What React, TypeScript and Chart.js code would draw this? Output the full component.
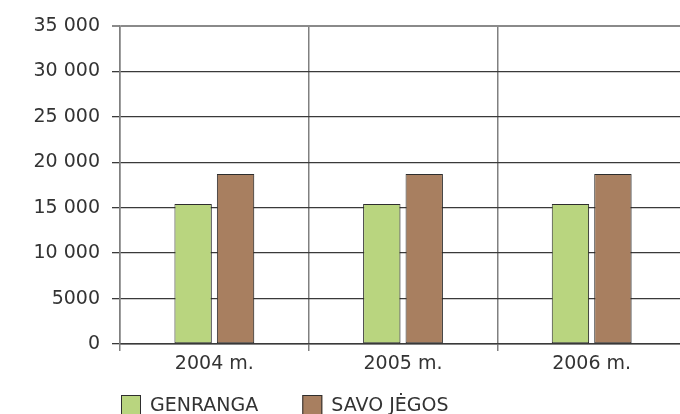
import React, { useEffect, useRef } from "react";
import { Chart, registerables } from "chart.js";

Chart.register(...registerables);

const categories = ["2004 m.", "2005 m.", "2006 m."];
const genrangaValues = [15400, 15400, 15400];
const savoJegosValues = [18700, 18700, 18700];
const seriesLabels = ["GENRANGA", "SAVO JĖGOS"];
const seriesColors = ["#b9d57f", "#a87f60"];
const yTickValues = [0, 5000, 10000, 15000, 20000, 25000, 30000, 35000];
const yTickLabels = ["0", "5000", "10 000", "15 000", "20 000", "25 000", "30 000", "35 000"];

const FONT = "'DejaVu Sans', sans-serif";
const TEXT = "#333333";
const BAR_BORDER = "#2e2e2e";

const shadowPlugin = {
  id: "barShadow",
  beforeDatasetsDraw(chart: any) {
    const ctx = chart.ctx;
    ctx.save();
    ctx.shadowColor = "rgba(0,0,0,0.18)";
    ctx.shadowOffsetX = 1.5;
    ctx.shadowOffsetY = 0;
    ctx.shadowBlur = 1;
  },
  afterDatasetsDraw(chart: any) {
    chart.ctx.restore();
  },
};

const legendPlugin = {
  id: "customLegend",
  afterDraw(chart: any) {
    const ctx = chart.ctx;
    ctx.save();
    ctx.font = `19px ${FONT}`;
    ctx.textBaseline = "alphabetic";
    ctx.textAlign = "left";
    let x = chart.chartArea.left + 1;
    const top = 395;
    chart.data.datasets.forEach((ds: any) => {
      ctx.fillStyle = ds.backgroundColor;
      ctx.fillRect(x, top, 20, 20);
      ctx.strokeStyle = BAR_BORDER;
      ctx.lineWidth = 1;
      ctx.strokeRect(x + 0.5, top + 0.5, 19, 19);
      ctx.fillStyle = TEXT;
      ctx.fillText(ds.label, x + 29, top + 15.5);
      x += 29 + ctx.measureText(ds.label).width + 44;
    });
    ctx.restore();
  },
};

export default function App() {
  const ref = useRef<HTMLCanvasElement | null>(null);

  useEffect(() => {
    document.body.style.margin = "0";
    const canvas = ref.current;
    if (!canvas) return;
    const chart = new Chart(canvas, {
      type: "bar",
      data: {
        labels: categories,
        datasets: [
          {
            label: seriesLabels[0],
            data: genrangaValues,
            backgroundColor: seriesColors[0],
            borderColor: BAR_BORDER,
            borderWidth: 1,
            borderSkipped: false,
            categoryPercentage: 0.45,
            barPercentage: 0.88,
          },
          {
            label: seriesLabels[1],
            data: savoJegosValues,
            backgroundColor: seriesColors[1],
            borderColor: BAR_BORDER,
            borderWidth: 1,
            borderSkipped: false,
            categoryPercentage: 0.45,
            barPercentage: 0.88,
          },
        ],
      },
      options: {
        responsive: false,
        animation: false,
        devicePixelRatio: 1,
        layout: { padding: { top: 26, left: 0, right: 0, bottom: 0 } },
        plugins: {
          legend: { display: false },
          tooltip: { enabled: false },
        },
        scales: {
          x: {
            grid: {
              color: "#808080",
              lineWidth: 1.5,
              tickLength: 7,
              offset: true,
            },
            border: { color: "#3a3a3a", width: 1.5 },
            ticks: {
              color: TEXT,
              font: { family: FONT, size: 19 },
              padding: 2,
            },
            afterFit: (s: any) => {
              s.height = 70;
            },
          },
          y: {
            min: 0,
            max: 35000,
            afterBuildTicks: (s: any) => {
              s.ticks = yTickValues.map((v) => ({ value: v }));
            },
            ticks: {
              color: TEXT,
              font: { family: FONT, size: 19 },
              padding: 12,
              callback: (v: any) => yTickLabels[yTickValues.indexOf(Number(v))],
            },
            grid: {
              color: (c: any) => (c.tick && c.tick.value === 35000 ? "#8a8a8a" : "#3a3a3a"),
              lineWidth: (c: any) => (c.tick && c.tick.value === 35000 ? 2 : 1.3),
              tickLength: 8,
            },
            border: { color: "#808080", width: 1.5 },
            afterFit: (s: any) => {
              s.width = 120;
            },
          },
        },
      },
      plugins: [shadowPlugin, legendPlugin],
    });
    return () => chart.destroy();
  }, []);

  return (
    <div style={{ width: 680, height: 414, overflow: "hidden", position: "relative" }}>
      <canvas ref={ref} width={686} height={414} style={{ width: 686, height: 414, display: "block" }} />
    </div>
  );
}
